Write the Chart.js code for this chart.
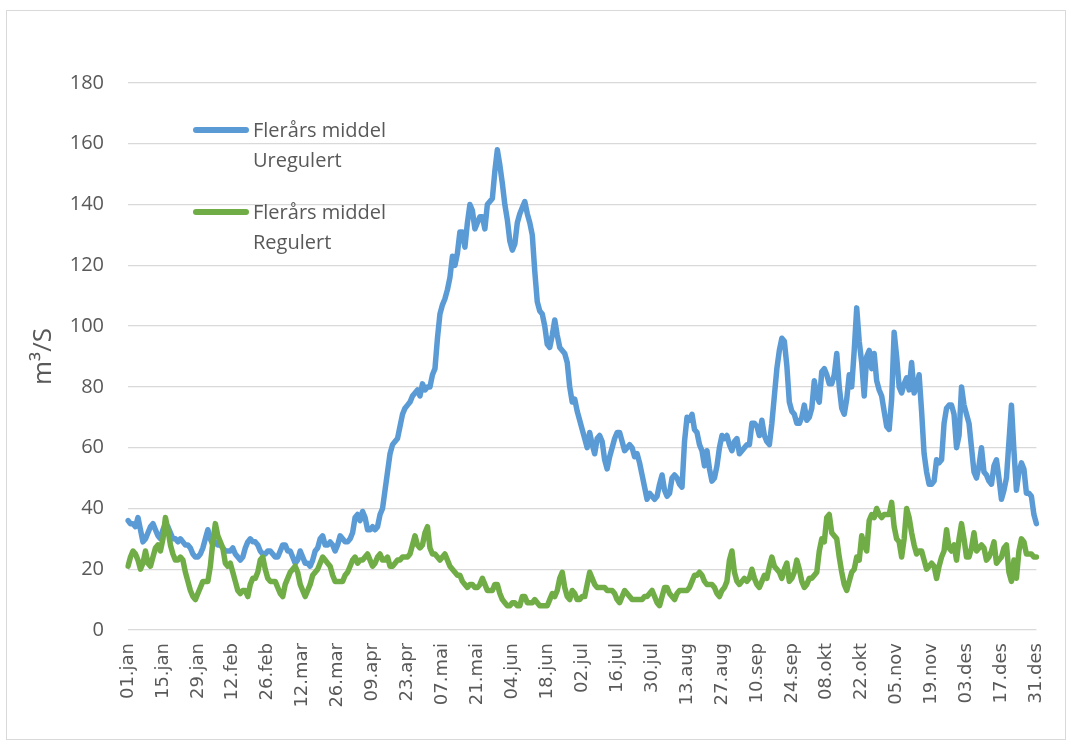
<!DOCTYPE html>
<html>
<head>
<meta charset="utf-8">
<title>Vannføring</title>
<script src="https://cdn.jsdelivr.net/npm/chart.js@4"></script>
<style>
  body { margin: 0; background: #fff; }
  #wrap { position: relative; width: 1071px; height: 744px; }
  #frame { position: absolute; left: 6px; top: 10px; width: 1060px; height: 730px; border: 1px solid #d9d9d9; box-sizing: border-box; pointer-events: none; }
  .leg { position: absolute; left: 193px; font-family: 'Open Sans', sans-serif; font-size: 20px; line-height: 30px; color: #595959; }
  .leg .line { position: absolute; left: 0; top: 12px; width: 56px; height: 6px; border-radius: 3px; }
  .leg .txt { margin-left: 60px; white-space: nowrap; }
</style>
</head>
<body>
<div id="wrap">
  <canvas id="myChart" width="1071" height="744"></canvas>
  <div id="frame"></div>
  <div class="leg" style="top:115px"><span class="line" style="background:#5B9BD5"></span><div class="txt">Flerårs middel<br>Uregulert</div></div>
  <div class="leg" style="top:197px"><span class="line" style="background:#70AD47"></span><div class="txt">Flerårs middel<br>Regulert</div></div>
</div>
<script>
const months = ['jan', 'feb', 'mar', 'apr', 'mai', 'jun', 'jul', 'aug', 'sep', 'okt', 'nov', 'des'];
const monthDays = [31, 28, 31, 30, 31, 30, 31, 31, 30, 31, 30, 31];
const labelEvery = 14;

// daily mean flow, m3/s (one row = 14 days)
const uregulert = [
  36,35,35,34,37,33,29,30,32,34,35,33,31,30,
  33,35,34,32,30,30,29,30,29,28,28,27,25,24,
  24,25,27,30,33,30,28,29,28,28,27,26,26,26,
  27,25,24,23,24,27,29,30,29,29,28,26,25,25,
  26,26,25,24,24,26,28,28,26,26,24,22,23,26,
  24,22,22,21,23,26,27,30,31,28,28,29,28,26,
  28,31,30,29,29,30,32,37,38,36,39,37,33,33,
  34,33,34,38,40,46,52,58,61,62,63,67,71,73,
  74,75,77,78,79,77,81,79,80,80,84,86,96,104,
  107,109,112,116,123,120,124,131,131,126,134,140,138,132,
  134,136,136,132,140,141,142,151,158,153,147,140,135,128,
  125,127,134,137,139,141,137,134,130,118,108,105,104,100,
  94,93,97,102,97,93,92,91,88,80,75,76,72,69,
  66,63,60,65,61,58,63,64,62,56,53,57,60,63,
  65,65,62,59,60,61,60,57,58,55,51,47,43,45,
  44,43,44,48,51,46,44,45,50,51,50,48,47,62,
  70,69,71,66,65,61,59,54,59,53,49,50,54,60,
  64,63,64,61,59,62,63,58,59,60,61,61,68,68,
  67,64,69,64,62,61,68,77,86,92,96,95,87,75,
  72,71,68,68,70,74,69,70,73,82,77,75,85,86,
  84,81,81,84,91,80,73,71,76,84,80,92,106,95,
  88,77,90,92,86,91,82,79,77,72,67,66,76,98,
  90,80,78,81,83,79,88,78,80,84,72,58,52,48,
  48,49,56,55,56,68,73,74,74,71,60,64,80,74,
  71,68,60,52,50,54,60,52,51,49,48,54,56,50,
  43,46,50,62,74,59,46,52,55,53,45,45,44,38,35
];

const regulert = [
  21,24,26,25,23,20,22,26,22,21,24,27,28,26,
  30,37,33,28,25,23,23,24,23,19,16,13,11,10,
  12,14,16,16,16,21,29,35,31,29,27,22,21,22,
  19,16,13,12,13,13,11,15,17,17,19,23,24,20,
  17,16,16,16,14,12,11,15,17,19,20,21,19,15,
  13,11,13,15,18,19,20,22,24,23,22,21,18,16,
  16,16,16,18,19,21,23,24,22,23,23,24,25,23,
  21,22,24,25,23,23,24,21,21,22,23,23,24,24,
  24,25,28,31,28,27,28,32,34,27,25,25,24,23,
  24,25,23,21,20,19,18,18,16,15,14,15,15,14,
  14,15,17,15,13,13,13,15,15,12,10,9,8,8,
  9,9,8,8,11,11,9,9,9,10,9,8,8,8,
  8,10,12,11,13,17,19,14,11,10,13,12,10,10,
  11,11,15,19,17,15,14,14,14,14,13,13,13,12,
  10,9,11,13,12,11,10,10,10,10,10,11,11,12,
  13,11,9,8,11,14,14,12,11,10,12,13,13,13,
  13,14,16,18,18,19,18,16,15,15,15,14,12,11,
  13,14,16,23,26,19,16,15,16,17,16,17,20,17,
  15,14,16,18,17,21,24,21,20,19,17,20,22,16,
  17,19,23,20,16,14,15,17,17,18,19,26,30,29,
  37,38,32,31,30,24,19,15,13,16,19,20,24,23,
  31,28,26,36,38,37,40,38,37,38,38,38,42,34,
  30,29,24,30,40,37,32,28,25,26,26,23,20,21,
  22,21,17,21,24,26,33,27,26,28,23,30,35,30,
  24,24,27,32,26,27,28,27,23,24,26,29,22,23,
  24,27,28,19,16,23,17,26,30,29,25,25,25,24,24
];

// "01.jan" ... "31.des"
const dayLabels = [];
months.forEach((m, i) => {
  for (let d = 1; d <= monthDays[i]; d++) {
    dayLabels.push(String(d).padStart(2, '0') + '.' + m);
  }
});

const grey = '#595959';

const myChart = new Chart(document.querySelector('#myChart'), {
  type: 'line',
  data: {
    labels: dayLabels,
    datasets: [{
      label: 'Flerårs middel Uregulert',
      data: uregulert,
      borderColor: '#5B9BD5',
      borderWidth: 5.5,
      pointRadius: 0,
      borderJoinStyle: 'round',
      borderCapStyle: 'round',
      order: 1
    }, {
      label: 'Flerårs middel Regulert',
      data: regulert,
      borderColor: '#70AD47',
      borderWidth: 5.5,
      pointRadius: 0,
      borderJoinStyle: 'round',
      borderCapStyle: 'round',
      order: 0
    }]
  },
  options: {
    responsive: false,
    animation: false,
    layout: { padding: { top: 83, right: 28, left: 0, bottom: 0 } },
    plugins: {
      legend: { display: false },
      tooltip: { enabled: false }
    },
    scales: {
      x: {
        grid: { display: false, drawTicks: false },
        border: { display: false },
        ticks: {
          autoSkip: false,
          minRotation: 90,
          maxRotation: 90,
          padding: 13,
          color: grey,
          font: { family: 'DejaVu Sans', size: 18 },
          callback: function (val, i) {
            return i % labelEvery === 0 ? this.getLabelForValue(val) : '';
          }
        },
        afterFit: (s) => { s.height = 114; }
      },
      y: {
        min: 0,
        max: 180,
        ticks: {
          stepSize: 20,
          padding: 24,
          color: grey,
          font: { family: 'Open Sans', size: 20 }
        },
        grid: { color: '#d9d9d9', lineWidth: 1.3, drawTicks: false },
        border: { display: false },
        title: {
          display: true,
          text: 'm³/S',
          color: grey,
          font: { family: 'Open Sans', size: 26 },
          padding: { top: 28, bottom: 0 }
        },
        afterFit: (s) => { s.width = 128; }
      }
    }
  }
});
</script>
</body>
</html>
